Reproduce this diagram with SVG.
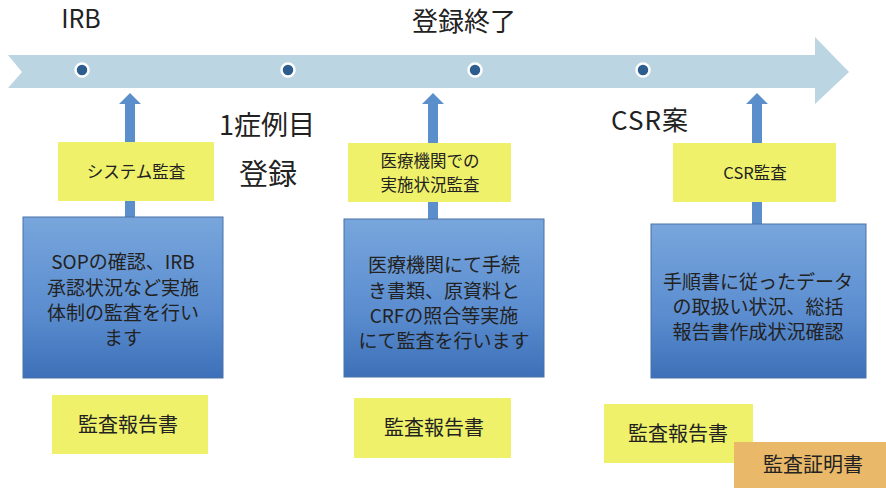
<svg xmlns="http://www.w3.org/2000/svg" width="886" height="488" viewBox="0 0 886 488">
<defs>
<linearGradient id="bg" x1="0" y1="0" x2="0" y2="1">
<stop offset="0" stop-color="#78a6dc"/>
<stop offset="0.6" stop-color="#5a8ccf"/>
<stop offset="1" stop-color="#3d70b8"/>
</linearGradient>
<style>
text{font-family:"Noto Sans CJK JP","Noto Sans",sans-serif;fill:#222;text-anchor:middle}
.yel{fill:#eff16a}
.blue{fill:url(#bg);stroke:#4a72a8;stroke-width:1}
.lbl{font-size:16.5px}
.body{font-size:19px}
.rep{font-size:20px}
.arr{fill:#5b8fcc}
.dot{fill:#2c5d8e;stroke:#fff;stroke-width:2.5}
</style>
</defs>
<rect width="886" height="488" fill="#fff"/>
<g id="timeline">
<path d="M8,55 L815,55 L815,37 L849,72 L815,104 L815,88 L8,88 L22,72 Z" fill="#bcd5e2"/>
<circle class="dot" cx="82" cy="70" r="6.5"/>
<circle class="dot" cx="288" cy="70" r="6.5"/>
<circle class="dot" cx="475" cy="70" r="6.5"/>
<circle class="dot" cx="643" cy="70" r="6.5"/>
</g>
<g id="milestones">
<text x="81" y="28" style="font-size:25px">IRB</text>
<text x="464" y="31" style="font-size:26px">登録終了</text>
<text x="267" y="135" style="font-size:27px">1症例目</text>
<text x="268" y="185" style="font-size:29px">登録</text>
<text x="650" y="130" style="font-size:26px;letter-spacing:1px">CSR案</text>
</g>
<g id="connectors">
<path class="arr" d="M125,220 V104 H119 L130,93 L141,104 H135 V220 Z"/>
<path class="arr" d="M428,222 V104 H422 L433,93 L444,104 H438 V222 Z"/>
<path class="arr" d="M752,226 V104 H746 L757,93 L768,104 H762 V226 Z"/>
</g>
<g id="audit1">
<rect class="yel" x="58" y="142" width="156" height="59"/>
<text x="136" y="178" class="lbl">システム監査</text>
</g>
<g id="audit2">
<rect class="yel" x="348" y="143" width="163" height="59"/>
<text x="430" y="167" class="lbl">医療機関での</text>
<text x="430" y="191" class="lbl">実施状況監査</text>
</g>
<g id="audit3">
<rect class="yel" x="673" y="143" width="163" height="59"/>
<text x="755" y="179" class="lbl">CSR監査</text>
</g>
<g id="desc1">
<rect class="blue" x="23" y="217" width="200" height="161"/>
<text x="123" y="269" class="body">SOPの確認、IRB</text>
<text x="123" y="295" class="body">承認状況など実施</text>
<text x="123" y="320" class="body">体制の監査を行い</text>
<text x="123" y="345" class="body">ます</text>
</g>
<g id="desc2">
<rect class="blue" x="344" y="219" width="200" height="158"/>
<text x="444" y="272" class="body">医療機関にて手続</text>
<text x="444" y="298" class="body">き書類、原資料と</text>
<text x="444" y="323" class="body">CRFの照合等実施</text>
<text x="444" y="348" class="body">にて監査を行います</text>
</g>
<g id="desc3">
<rect class="blue" x="651" y="224" width="215" height="154"/>
<text x="758" y="289" class="body">手順書に従ったデータ</text>
<text x="758" y="314" class="body">の取扱い状況、総括</text>
<text x="758" y="339" class="body">報告書作成状況確認</text>
</g>
<g id="report1">
<rect class="yel" x="52" y="395" width="156" height="59"/>
<text x="128" y="432" class="rep">監査報告書</text>
</g>
<g id="report2">
<rect class="yel" x="354" y="398" width="157" height="60"/>
<text x="434" y="435" class="rep">監査報告書</text>
</g>
<g id="report3">
<rect class="yel" x="604" y="404" width="149" height="59"/>
<text x="678" y="441" class="rep">監査報告書</text>
</g>
<g id="certificate">
<rect x="734" y="442" width="152" height="46" fill="#e9b868"/>
<text x="813" y="472" class="rep">監査証明書</text>
</g>
</svg>
